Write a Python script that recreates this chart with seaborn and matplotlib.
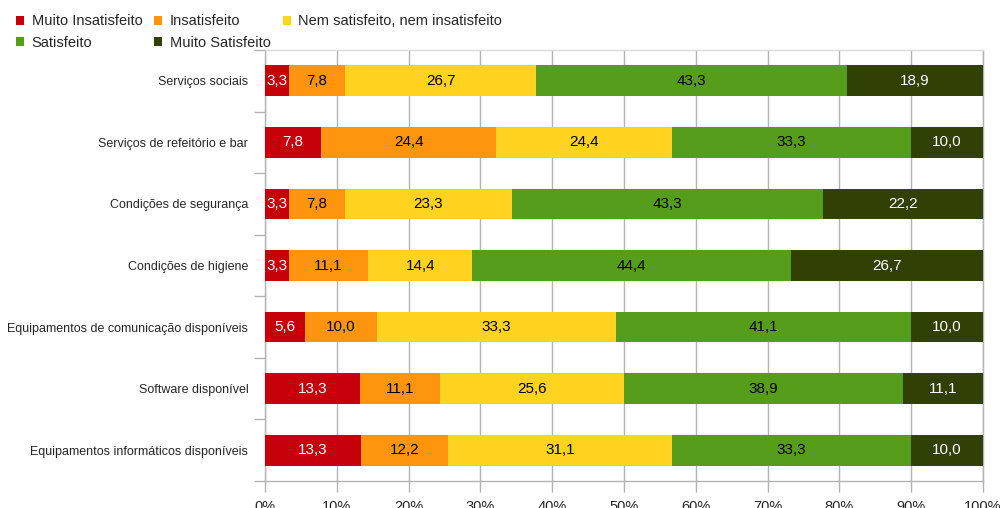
import numpy as np
import pandas as pd
import matplotlib
matplotlib.use("Agg")
import matplotlib.pyplot as plt
import seaborn as sns
from matplotlib.patches import Patch
from matplotlib.ticker import FixedLocator

# Survey results (% of respondents) per service
categories = [
    "Serviços sociais",
    "Serviços de refeitório e bar",
    "Condições de segurança",
    "Condições de higiene",
    "Equipamentos de comunicação disponíveis",
    "Software disponível",
    "Equipamentos informáticos disponíveis",
]
levels = [
    "Muito Insatisfeito",
    "Insatisfeito",
    "Nem satisfeito, nem insatisfeito",
    "Satisfeito",
    "Muito Satisfeito",
]
muito_insatisfeito = [3.3, 7.8, 3.3, 3.3, 5.6, 13.3, 13.3]
insatisfeito = [7.8, 24.4, 7.8, 11.1, 10.0, 11.1, 12.2]
nem_nem = [26.7, 24.4, 23.3, 14.4, 33.3, 25.6, 31.1]
satisfeito = [43.3, 33.3, 43.3, 44.4, 41.1, 38.9, 33.3]
muito_satisfeito = [18.9, 10.0, 22.2, 26.7, 10.0, 11.1, 10.0]
x_ticks = list(range(0, 101, 10))

colors = ["#c5000b", "#ff950e", "#ffd320", "#579d1c", "#314004"]
text_colors = ["white", "black", "black", "black", "white"]
grey = "#b3b3b3"

sns.set_style("white")
plt.rcParams["font.family"] = ["Liberation Sans", "DejaVu Sans"]

values = pd.DataFrame(
    {lv: col for lv, col in zip(levels, [muito_insatisfeito, insatisfeito, nem_nem,
                                          satisfeito, muito_satisfeito])},
    index=categories,
)
# percent-stacked: each row scaled to 100 %
shares = values.div(values.sum(axis=1), axis=0) * 100
cumulative = shares.cumsum(axis=1)
long_cum = cumulative.reset_index().rename(columns={"index": "categoria"})

fig = plt.figure(figsize=(10.02, 5.08), dpi=100)
ax = fig.add_axes([265 / 1002, 27 / 508, 718 / 1002, 431 / 508])

# draw from the outermost cumulative segment inward so each one overlays the next
for j in reversed(range(len(levels))):
    sns.barplot(data=long_cum, x=levels[j], y="categoria", order=categories,
                orient="h", color=colors[j], saturation=1, width=0.5,
                linewidth=0, ax=ax, zorder=3)

for i, cat in enumerate(categories):
    for j, lv in enumerate(levels):
        right = cumulative.loc[cat, lv]
        share = shares.loc[cat, lv]
        ax.text(right - share / 2, i, f"{values.loc[cat, lv]:.1f}".replace(".", ","),
                ha="center", va="center", fontsize=11, color=text_colors[j], zorder=4)

ax.set_xlim(0, 100)
ax.set_ylim(len(categories) - 0.5, -0.5)
ax.set_xlabel("")
ax.set_ylabel("")

ax.set_axisbelow(True)
ax.xaxis.grid(True, color=grey, linewidth=1)
ax.yaxis.grid(False)

ax.set_xticks(x_ticks)
ax.set_xticklabels([f"{t}%" for t in x_ticks], fontsize=10.5)
ax.tick_params(axis="x", which="major", length=8, width=1, color=grey,
               direction="out", pad=6, bottom=True)

ax.yaxis.set_major_locator(FixedLocator(np.arange(-0.5, len(categories), 1.0)))
ax.yaxis.set_minor_locator(FixedLocator(np.arange(len(categories))))
ax.set_yticklabels([], minor=False)
ax.set_yticklabels(categories, minor=True, fontsize=9.0)
ax.tick_params(axis="y", which="major", length=8, width=1, color=grey,
               direction="out", left=True)
ax.tick_params(axis="y", which="minor", length=0, pad=12)

for side in ["left", "bottom", "right"]:
    ax.spines[side].set_color(grey)
    ax.spines[side].set_linewidth(1)
ax.spines["top"].set_color("#d9d9d9")
ax.spines["top"].set_linewidth(1)

handles = [Patch(facecolor=c, edgecolor="none") for c in colors]
order = [0, 3, 1, 4, 2]
fig.legend([handles[k] for k in order], [levels[k] for k in order],
           loc="upper left", bbox_to_anchor=(12 / 1002, 1 - 10 / 508),
           ncol=3, frameon=False, fontsize=10.5, handlelength=0.55,
           handleheight=0.55, handletextpad=0.5, columnspacing=0.82,
           labelspacing=0.5, borderaxespad=0, borderpad=0.3)

fig.savefig("out.png", dpi=100)
